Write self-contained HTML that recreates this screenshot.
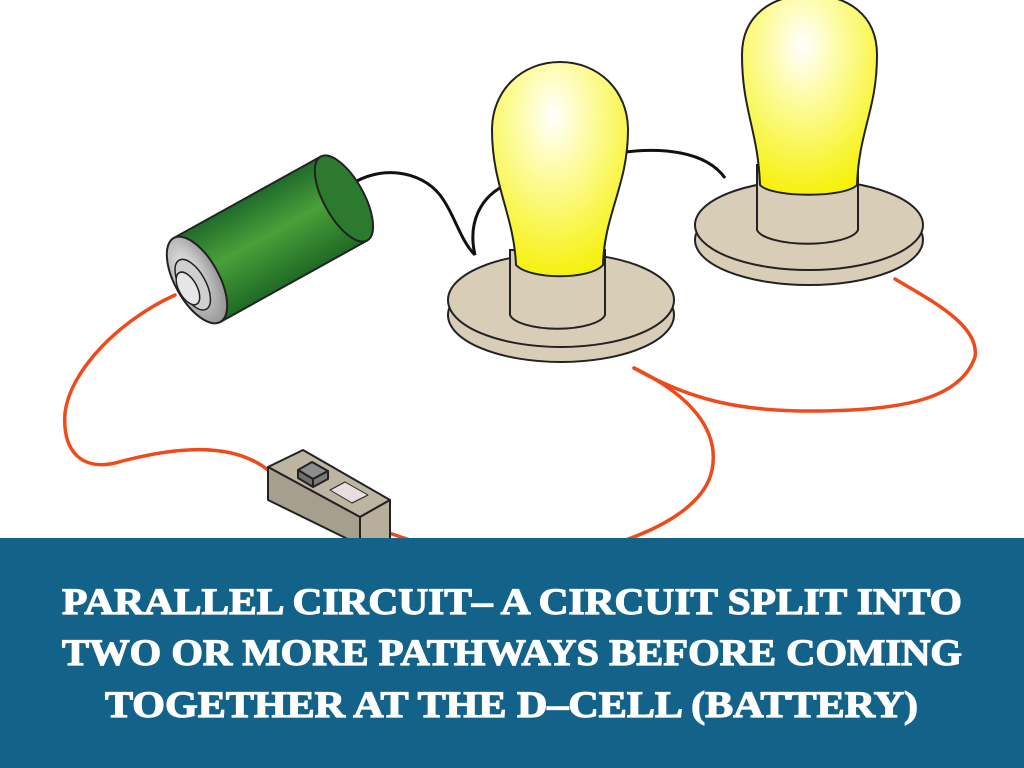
<!DOCTYPE html>
<html><head><meta charset="utf-8"><style>
html,body{margin:0;padding:0;background:#fff;}
svg{display:block;}
</style></head><body>
<svg width="1024" height="768" viewBox="0 0 1024 768" xmlns="http://www.w3.org/2000/svg">
<defs>
<linearGradient id="green" x1="0" y1="0" x2="0" y2="1">
<stop offset="0" stop-color="#1f6b2a"/><stop offset="0.45" stop-color="#4aa03a"/><stop offset="1" stop-color="#1e6a25"/>
</linearGradient>
<radialGradient id="cap" cx="0.4" cy="0.4" r="0.7">
<stop offset="0" stop-color="#f2f2f2"/><stop offset="1" stop-color="#8a8a8a"/>
</radialGradient>
<radialGradient id="bulb" cx="0.45" cy="0.25" r="0.8">
<stop offset="0" stop-color="#ffffff"/><stop offset="0.35" stop-color="#fdfca0"/><stop offset="1" stop-color="#f5f000"/>
</radialGradient>
</defs>
<rect width="1024" height="768" fill="#fff"/>

<!-- black wires -->
<g fill="none" stroke="#111" stroke-width="3">
<path d="M350,185 C380,165 420,170 440,195 C455,215 460,240 475,255"/>
<path d="M475,255 C468,225 478,195 512,182"/>
<path d="M625,152 C660,148 705,150 725,178"/>
</g>

<!-- red wires -->
<g fill="none" stroke="#ef4a1c" stroke-width="3.5" stroke-linecap="round">
<path d="M175,295 C120,320 70,370 65,413 C62,455 85,470 115,463 C170,448 230,440 268,470"/>
<path d="M380,530 C395,535 410,540 425,545"/>
<path d="M634,368 C690,395 720,430 712,470 C705,505 660,530 610,545"/>
<path d="M634,368 C690,400 740,412 820,411 C900,410 960,400 975,357 C980,325 930,300 895,279"/>
</g>

<!-- battery -->
<g transform="translate(197,280) rotate(-29)">
<rect x="0" y="-48" width="168" height="96" fill="url(#green)" stroke="#222" stroke-width="2"/>
<ellipse cx="168" cy="0" rx="20" ry="48" fill="#2c7a2e" stroke="#222" stroke-width="2"/>
<ellipse cx="0" cy="0" rx="22" ry="48" fill="url(#cap)" stroke="#222" stroke-width="2"/>
<ellipse cx="-6" cy="2" rx="13" ry="28" fill="#cfcfcf" stroke="#222" stroke-width="1.5"/>
<ellipse cx="-12" cy="3" rx="9" ry="18" fill="#e6e6e6" stroke="#222" stroke-width="1.5"/>
</g>

<!-- switch -->
<g stroke="#222" stroke-width="2" stroke-linejoin="round">
<polygon points="268,467 303,450 390,500 360,517" fill="#bdb4a2"/>
<polygon points="268,467 360,517 360,545 268,500" fill="#a69f8e"/>
<polygon points="360,517 390,500 390,545 360,545" fill="#b7ae9c"/>
<polygon points="330,490 345,482 368,495 352,503" fill="#e8dede" stroke-width="1"/>
<polygon points="298,470 312,462 328,471 313,479" fill="#8d8d8d"/>
<polygon points="298,470 313,479 313,487 298,478" fill="#6f6f6f"/>
<polygon points="313,479 328,471 328,479 313,487" fill="#7b7b7b"/>
</g>

<!-- bulb 2 -->
<g stroke="#222" stroke-width="2">
<ellipse cx="809" cy="240" rx="114" ry="45" fill="#d8cdb7"/>
<ellipse cx="809" cy="225" rx="114" ry="45" fill="#d8cdb7"/>
<path d="M757,165 L757,230 A51,16 0 0 0 858,230 L858,165 Z" fill="#d8cdb7"/>
<path d="M760,185 C758,130 742,110 742,55 C742,15 772,-5 810,-5 C848,-5 877,15 877,55 C877,110 859,130 857,185 C845,198 772,198 760,185 Z" fill="url(#bulb)"/>
</g>

<!-- bulb 1 -->
<g stroke="#222" stroke-width="2">
<ellipse cx="561" cy="315" rx="113" ry="47" fill="#d8cdb7"/>
<ellipse cx="561" cy="300" rx="113" ry="47" fill="#d8cdb7"/>
<path d="M510,250 L510,315 A48,16 0 0 0 605,315 L605,250 Z" fill="#d8cdb7"/>
<path d="M516,265 C514,215 492,185 492,130 C492,90 522,62 560,62 C598,62 628,90 628,130 C628,185 604,215 603,265 C590,280 530,280 516,265 Z" fill="url(#bulb)"/>
</g>

<!-- banner -->
<rect x="0" y="538" width="1024" height="230" fill="#13628a"/>
<g fill="#fff" stroke="#fff" stroke-width="1.2" font-family="'Liberation Serif', serif" font-weight="bold" font-size="37" text-anchor="start">
<text x="62" y="614" textLength="900" lengthAdjust="spacingAndGlyphs">PARALLEL CIRCUIT– A CIRCUIT SPLIT INTO</text>
<text x="62" y="665" textLength="900" lengthAdjust="spacingAndGlyphs">TWO OR MORE PATHWAYS BEFORE COMING</text>
<text x="105" y="717" textLength="813" lengthAdjust="spacingAndGlyphs">TOGETHER AT THE D–CELL (BATTERY)</text>
</g>
</svg>
</body></html>
